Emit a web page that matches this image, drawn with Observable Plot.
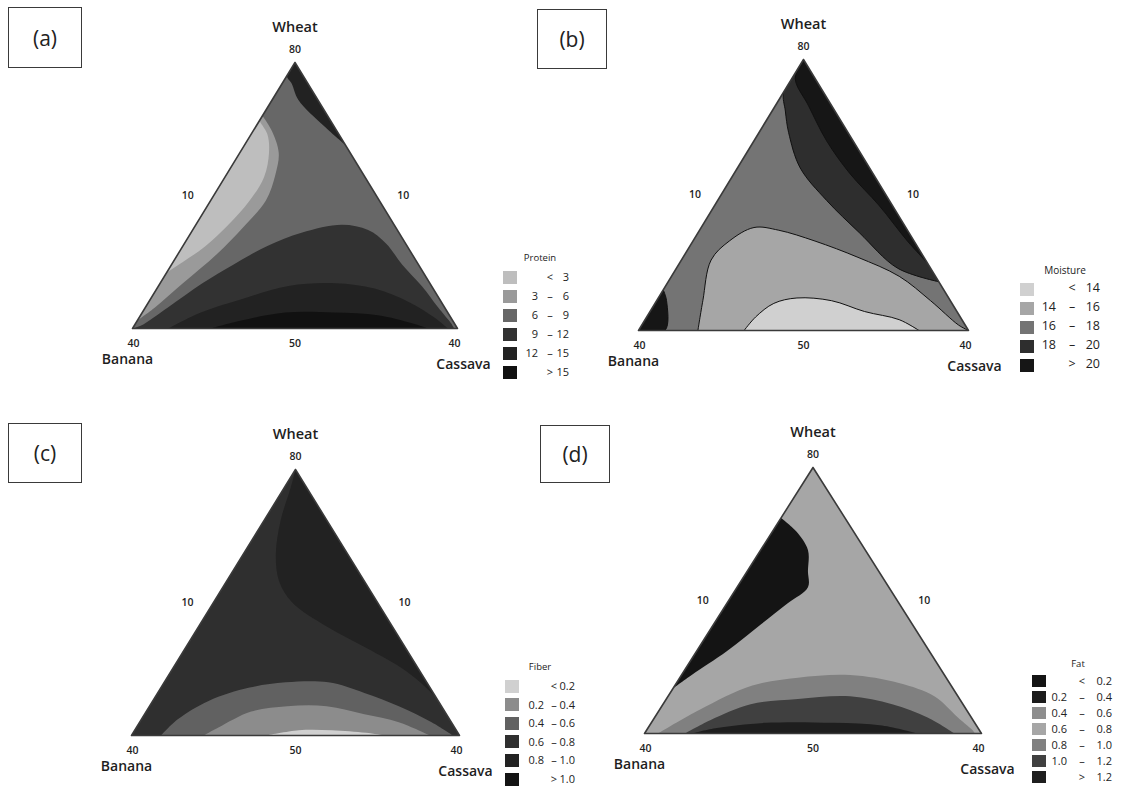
<!DOCTYPE html>
<html><head><meta charset="utf-8">
<script src="https://cdn.jsdelivr.net/npm/d3@7"></script>
<script src="https://cdn.jsdelivr.net/npm/@observablehq/plot@0.6"></script>
<style>
body{margin:0;background:#fff;font-family:"Open Sans","DejaVu Sans",sans-serif;}
#page{position:relative;width:1125px;height:789px;overflow:hidden;background:#fff;}
.tag{position:absolute;border:1.5px solid #3a3a3a;box-sizing:border-box;display:flex;align-items:center;justify-content:center;font-size:21px;color:#222;}
.legend{position:absolute;left:0;top:0;color:#222;}
.legend div{position:absolute;white-space:nowrap;line-height:1;}
</style></head><body><div id="page"></div>
<script>
// ---------- shared data ----------
const vertexNames = ["Wheat", "Banana", "Cassava"];
const apexTick = "80";
const sideTicks = ["10", "10"];
const baseTicks = ["40", "50", "40"];
const panelTags = ["(a)", "(b)", "(c)", "(d)"];
// compositions are [Wheat %, Cassava %] of the pseudo-components (Banana = rest)
const triangle = [[100, 0], [0, 0], [0, 100]];

// ---------- (a) Protein ----------
const proteinLabels = ["< 3", "3 – 6", "6 – 9", "9 – 12", "12 – 15", "> 15"];
const proteinColors = ["#bebebe", "#9a9a9a", "#676767", "#323232", "#222222", "#111111"];
const proteinLight = [[80,0],[74,6],[66,12],[58,15],[48,17],[38,15],[28,12],[17,7],[8,3],[3,0]];
const proteinLightest = [[78,0],[73,5],[66,9],[57,12],[48,12],[39,10],[31,7],[25,3],[21,0]];
const proteinTop = [[100,0],[95,0],[92,3],[86,8],[76,21],[69,31]];
const proteinHump = [[0,0],[1,2],[8,7],[17,13],[24,19],[31,26],[36,34],[39,45],[37,54],[32,62],[24,71],[16,81],[8,90],[2,97],[0,99]];
const proteinHumpInner = [[0,11],[6,18],[11,28],[16,40],[17,54],[15,67],[10,80],[4,91],[0,97]];
const proteinCore = [[0,24],[3,32],[6,44],[6,59],[5,73],[2,85],[0,91]];

// ---------- (b) Moisture ----------
const moistureLabels = ["< 14", "14 – 16", "16 – 18", "18 – 20", "> 20"];
const moistureColors = ["#d0d0d0", "#a6a6a6", "#747474", "#2e2e2e", "#161616"];
const moistureDark = [[100,0],[88,0],[81,4],[73,9],[60,19],[48,33],[36,49],[23,67],[18,82]];
const moistureBlack = [[100,0],[93,1],[83,10],[70,22],[58,35],[46,50],[33,65],[25,75]];
const moistureCorner = [[0,0],[0,8],[11,3],[15,0]];
const moistureLight = [[0,18],[11,14],[26,9],[33,11],[38,16],[37,24],[33,37],[27,53],[20,69],[11,83],[2,96],[0,100]];
const moistureLightest = [[0,32],[5,33],[10,36],[12,42],[11,53],[7,65],[4,77],[0,85]];

// ---------- (c) Fiber ----------
const fiberLabels = ["< 0.2", "0.2 – 0.4", "0.4 – 0.6", "0.6 – 0.8", "0.8 – 1.0", "> 1.0"];
const fiberColors = ["#d0d0d0", "#8c8c8c", "#616161", "#2f2f2f", "#222222", "#141414"];
const fiberCore = [[100,0],[93,2],[81,5],[68,10],[58,16],[50,24],[41,39],[33,55],[24,72],[14,86],[10,90]];
const fiberBand1 = [[0,9],[6,11],[13,17],[18,27],[20,37],[20,50],[16,63],[11,76],[5,89],[0,98]];
const fiberBand2 = [[0,22],[3,25],[9,32],[11,42],[11,54],[8,67],[5,79],[0,91]];
const fiberBand3 = [[0,41],[2,50],[2,60],[1,71],[0,77]];

// ---------- (d) Fat ----------
const fatLabels = ["< 0.2", "0.2 – 0.4", "0.4 – 0.6", "0.6 – 0.8", "0.8 – 1.0", "1.0 – 1.2", "> 1.2"];
const fatColors = ["#141414", "#1c1c1c", "#8e8e8e", "#a6a6a6", "#808080", "#404040", "#1e1e1e"];
const fatLeft = [[81,0],[76,7],[69,14],[61,18],[55,21],[49,18],[41,14],[31,9],[22,3],[17,0]];
const fatHump1 = [[0,4],[9,12],[18,23],[21,35],[22,50],[19,66],[14,79],[6,90],[1,97],[0,98]];
const fatHump2 = [[0,12],[5,17],[11,26],[13,39],[14,54],[11,68],[6,81],[0,92]];
const fatHump3 = [[0,14],[2,20],[4,34],[4,54],[3,69],[0,81]];

// ---------- drawing ----------
const page = d3.select("#page");
const toXY = ([w, c]) => ({x: (c + w / 2) / 100, y: w / 100});

function drawPanel(cfg) {
  const {id, left, top, width, height, mL, mR, mT, mB, labels, colors, layers, contourLines} = cfg;
  const marks = layers.map(([band, pts]) => Plot.line(pts.map(p => ({band, ...toXY(p)})), {
    x: "x", y: "y", fill: "band",
    stroke: contourLines && pts !== triangle ? "#111" : "none", strokeWidth: 1,
    curve: pts === triangle ? "linear" : "catmull-rom"
  }));
  marks.push(Plot.line([...triangle, triangle[0]].map(toXY), {x: "x", y: "y", stroke: "#3a3a3a", strokeWidth: 1.6}));
  const txt = (w, c, text, o) => Plot.text([{...toXY([w, c]), text}], {x: "x", y: "y", text: "text", fill: "#1e1e1e", fontFamily: "Open Sans", ...o});
  marks.push(
    txt(100, 0, vertexNames[0], {dy: -35, fontSize: 14.5, fontWeight: 600}),
    txt(100, 0, apexTick, {dy: -13, fontSize: 10.5, fontWeight: 600}),
    txt(50, 0, sideTicks[0], {dx: -26, fontSize: 10.5, fontWeight: 600}),
    txt(50, 50, sideTicks[1], {dx: 27, fontSize: 10.5, fontWeight: 600}),
    txt(0, 0, baseTicks[0], {dy: 15, dx: 1, fontSize: 10.5, fontWeight: 600}),
    txt(0, 50, baseTicks[1], {dy: 15, fontSize: 10.5, fontWeight: 600}),
    txt(0, 100, baseTicks[2], {dy: 15, dx: -3, fontSize: 10.5, fontWeight: 600}),
    txt(0, 0, vertexNames[1], {dy: 31, dx: -5, fontSize: 14, fontWeight: 600}),
    txt(0, 100, vertexNames[2], {dy: 36, dx: 6, fontSize: 14, fontWeight: 600})
  );
  const svg = Plot.plot({
    width, height, marginLeft: mL, marginRight: mR, marginTop: mT, marginBottom: mB,
    x: {domain: [0, 1], axis: null}, y: {domain: [0, 1], axis: null},
    color: {type: "ordinal", domain: labels, range: colors},
    style: {background: "transparent", overflow: "visible"},
    marks
  });
  svg.style.position = "absolute";
  svg.style.left = left + "px";
  svg.style.top = top + "px";
  page.node().appendChild(svg);
  try {
    const sx = svg.scale("x"), sy = svg.scale("y");
    const X = d3.scaleLinear(sx.domain, sx.range), Y = d3.scaleLinear(sy.domain, sy.range);
    const sel = d3.select(svg);
    sel.insert("defs", ":first-child").append("clipPath").attr("id", id).append("polygon")
      .attr("points", triangle.map(toXY).map(p => X(p.x) + "," + Y(p.y)).join(" "));
    const gs = sel.selectAll('g[aria-label="line"]').nodes();
    gs.slice(0, layers.length).forEach(n => n.setAttribute("clip-path", `url(#${id})`));
  } catch (e) { /* clipping is cosmetic */ }
}

function drawLegend({L, titleY, titleX, title, labels, colors, firstRow, step, swH, cols, fs, tfs}) {
  const g = page.append("div").attr("class", "legend");
  g.append("div").style("left", titleX + "px").style("top", (titleY - tfs / 2) + "px")
    .style("font-size", tfs + "px").style("transform", "translateX(-50%)").text(title);
  labels.forEach((lab, i) => {
    const cy = firstRow + i * step;
    g.append("div").style("left", L + "px").style("top", (cy - swH / 2) + "px")
      .style("width", "14px").style("height", swH + "px").style("background", colors[i]);
    let low = "", sep, high;
    if (lab[0] === "<" || lab[0] === ">") { sep = lab[0]; high = lab.slice(2); }
    else { [low, high] = lab.split(" – "); sep = "–"; }
    const put = (t, x, anchor) => g.append("div").style("left", x + "px").style("top", (cy - fs * 0.55) + "px")
      .style("font-size", fs + "px").style("transform", anchor === "end" ? "translateX(-100%)" : "translateX(-50%)").text(t);
    if (low) put(low, L + cols[0], "end");
    put(sep, L + cols[1], "middle");
    put(high, L + cols[2], "end");
  });
}

function drawTag(text, left, top, w, h) {
  page.append("div").attr("class", "tag").style("left", left + "px").style("top", top + "px")
    .style("width", w + "px").style("height", h + "px").text(text);
}

drawPanel({id: "clipA", left: 90, top: 0, width: 420, height: 390, mL: 42, mR: 53, mT: 62, mB: 62,
  labels: proteinLabels, colors: proteinColors,
  layers: [["6 – 9", triangle], ["3 – 6", proteinLight], ["< 3", proteinLightest], ["12 – 15", proteinTop],
           ["9 – 12", proteinHump], ["12 – 15", proteinHumpInner], ["> 15", proteinCore]]});
drawPanel({id: "clipB", left: 590, top: 0, width: 420, height: 390, mL: 48, mR: 42, mT: 59, mB: 60,
  labels: moistureLabels, colors: moistureColors, contourLines: true,
  layers: [["16 – 18", triangle], ["18 – 20", moistureDark], ["> 20", moistureBlack], ["> 20", moistureCorner],
           ["14 – 16", moistureLight], ["< 14", moistureLightest]]});
drawPanel({id: "clipC", left: 90, top: 400, width: 420, height: 389, mL: 41, mR: 51, mT: 69, mB: 54,
  labels: fiberLabels, colors: fiberColors,
  layers: [["0.6 – 0.8", triangle], ["0.8 – 1.0", fiberCore], ["0.4 – 0.6", fiberBand1],
           ["0.2 – 0.4", fiberBand2], ["< 0.2", fiberBand3]]});
drawPanel({id: "clipD", left: 600, top: 400, width: 420, height: 389, mL: 44, mR: 39, mT: 67, mB: 56,
  labels: fatLabels, colors: fatColors,
  layers: [["0.6 – 0.8", triangle], ["< 0.2", fatLeft], ["0.8 – 1.0", fatHump1],
           ["1.0 – 1.2", fatHump2], ["> 1.2", fatHump3]]});

drawLegend({L: 503, titleY: 258, titleX: 540, title: "Protein", labels: proteinLabels, colors: proteinColors,
  firstRow: 277, step: 19, swH: 13, cols: [35, 47, 66], fs: 11, tfs: 9.5});
drawLegend({L: 1020, titleY: 270, titleX: 1065, title: "Moisture", labels: moistureLabels, colors: moistureColors,
  firstRow: 289, step: 19, swH: 13, cols: [36, 52, 80], fs: 12.5, tfs: 10});
drawLegend({L: 505, titleY: 667, titleX: 540, title: "Fiber", labels: fiberLabels, colors: fiberColors,
  firstRow: 686, step: 18.6, swH: 13, cols: [39, 49, 70], fs: 11, tfs: 9.5});
drawLegend({L: 1032, titleY: 664, titleX: 1078, title: "Fat", labels: fatLabels, colors: fatColors,
  firstRow: 681, step: 16, swH: 12, cols: [35, 50, 80], fs: 11, tfs: 9.5});

drawTag(panelTags[0], 8, 7, 74, 61);
drawTag(panelTags[1], 537, 9, 70, 60);
drawTag(panelTags[2], 8, 423, 74, 60);
drawTag(panelTags[3], 540, 425, 70, 58);
</script></body></html>
